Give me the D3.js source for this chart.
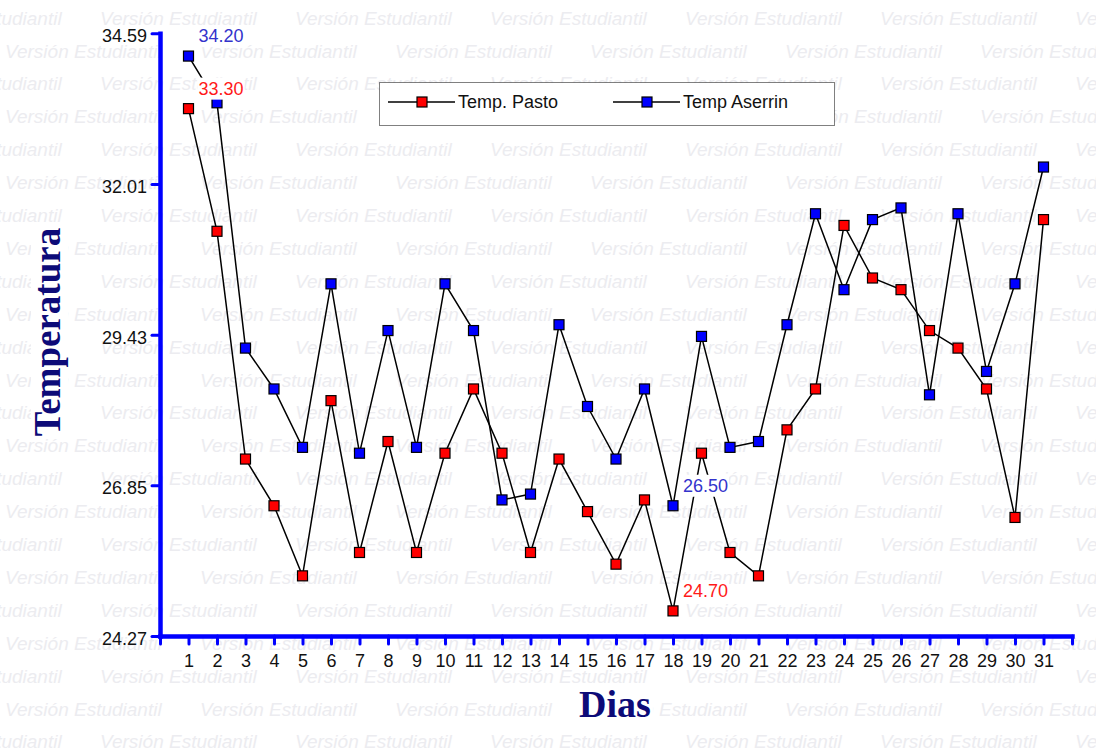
<!DOCTYPE html>
<html><head><meta charset="utf-8">
<script src="https://cdn.jsdelivr.net/npm/d3@7"></script>
<style>body{margin:0;background:#fff}svg{display:block}</style>
</head><body><svg id="c" width="1096" height="748"></svg>
<script>
// ---------- data ----------
const days = [1,2,3,4,5,6,7,8,9,10,11,12,13,14,15,16,17,18,19,20,21,22,23,24,25,26,27,28,29,30,31];
const tempPasto = [33.3,31.2,27.3,26.5,25.3,28.3,25.7,27.6,25.7,27.4,28.5,27.4,25.7,27.3,26.4,25.5,26.6,24.7,27.4,25.7,25.3,27.8,28.5,31.3,30.4,30.2,29.5,29.2,28.5,26.3,31.4];
const tempAserrin = [34.2,33.4,29.2,28.5,27.5,30.3,27.4,29.5,27.5,30.3,29.5,26.6,26.7,29.6,28.2,27.3,28.5,26.5,29.4,27.5,27.6,29.6,31.5,30.2,31.4,31.6,28.4,31.5,28.8,30.3,32.3];
const xTickValues = [0,1,2,3,4,5,6,7,8,9,10,11,12,13,14,15,16,17,18,19,20,21,22,23,24,25,26,27,28,29,30,31,32];
const yTickValues = [24.27, 26.85, 29.43, 32.01, 34.59];
const seriesNames = ["Temp. Pasto", "Temp Aserrin"];
const seriesFill = ["#ff0000", "#0000ff"];
const labelColors = ["#ff1a1a", "#3333cc"];
const annotations = [
  {series: 1, day: 1, text: "34.20"},
  {series: 0, day: 1, text: "33.30"},
  {series: 1, day: 18, text: "26.50"},
  {series: 0, day: 18, text: "24.70"}
];
const xTitle = "Dias";
const yTitle = "Temperatura";
const watermarkText = "Versión Estudiantil";

// ---------- drawing ----------
const svg = d3.select("#c");
const W = 1096, H = 748;
svg.append("rect").attr("width", W).attr("height", H).attr("fill", "#fff");

// watermark
const wm = svg.append("g").attr("font-family", "'Liberation Sans', Arial, sans-serif")
  .attr("font-style", "italic").attr("font-size", 19).attr("fill", "#ececf0");
for (let r = 0; r < 23; r++) {
  const yy = 18 + r * 32.9;
  const x0 = (r % 2 === 0) ? 100 : 5;
  for (let k = -1; k < 7; k++) {
    wm.append("text").attr("x", x0 + k * 195).attr("y", yy).attr("dy", "0.35em").text(watermarkText);
  }
}

const x = d3.scaleLinear().domain([0, 32]).range([160, 1072]);
const y = d3.scaleLinear().domain([24.27, 34.59]).range([636, 33.3]);
const series = [tempPasto, tempAserrin];
const navy = "#0d0b78";

// titles with white backgrounds
function titleWithBg(g) {
  const bb = g.select("text").node().getBBox();
  g.insert("rect", "text").attr("x", bb.x - 2).attr("y", bb.y + 4).attr("width", bb.width + 4).attr("height", bb.height - 4).attr("fill", "#fff");
}
const yt = svg.append("g").attr("transform", "translate(60,332) rotate(-90)");
yt.append("text").attr("text-anchor", "middle").attr("font-family", "'Liberation Serif', 'Times New Roman', serif")
  .attr("font-weight", "bold").attr("font-size", 37).attr("fill", navy).text(yTitle);
titleWithBg(yt);
const xt = svg.append("g").attr("transform", "translate(615,717)");
xt.append("text").attr("text-anchor", "middle").attr("font-family", "'Liberation Serif', 'Times New Roman', serif")
  .attr("font-weight", "bold").attr("font-size", 38).attr("fill", navy).text(xTitle);
titleWithBg(xt);

// axes
const axisColor = "#0000ff";
const yAxis = svg.append("g").attr("transform", "translate(160,0)")
  .call(d3.axisLeft(y).tickValues(yTickValues).tickSize(8).tickSizeOuter(0).tickPadding(5).tickFormat(d3.format(".2f")));
const xAxis = svg.append("g").attr("transform", "translate(0,636)")
  .call(d3.axisBottom(x).tickValues(xTickValues).tickSize(8).tickSizeOuter(0).tickPadding(10)
    .tickFormat(d => days.includes(d) ? d : ""));
[yAxis, xAxis].forEach(a => {
  a.select(".domain").attr("stroke", axisColor).attr("stroke-width", 4.5).attr("stroke-linecap", "square");
  a.selectAll(".tick line").attr("stroke", axisColor).attr("stroke-width", 3).attr("stroke-linecap", "round");
  a.selectAll(".tick text").attr("fill", "#111").attr("font-size", 18).attr("font-family", "'Liberation Sans', Arial, sans-serif");
});
yAxis.selectAll(".tick text").attr("dy", "0.47em");

// lines
const line = d3.line().x((d, i) => x(days[i])).y(d => y(d));
series.forEach(s => {
  svg.append("path").datum(s).attr("d", line).attr("fill", "none").attr("stroke", "#000").attr("stroke-width", 1.5);
});
// markers
series.forEach((s, si) => {
  svg.append("g").selectAll("rect").data(s).join("rect")
    .attr("x", (d, i) => x(days[i]) - 5).attr("y", d => y(d) - 5)
    .attr("width", 10).attr("height", 10)
    .attr("fill", seriesFill[si]).attr("stroke", "#000").attr("stroke-width", 1.2);
});

// annotations with white background
annotations.forEach(a => {
  const v = series[a.series][days.indexOf(a.day)];
  const g = svg.append("g").attr("transform", `translate(${x(a.day) + 10},${y(v) - 20})`);
  const t = g.append("text").attr("dy", "0.35em").attr("font-size", 18)
    .attr("font-family", "'Liberation Sans', Arial, sans-serif").attr("fill", labelColors[a.series]).text(a.text);
  const bb = t.node().getBBox();
  g.insert("rect", "text").attr("x", bb.x - 1).attr("y", -11).attr("width", bb.width + 2).attr("height", 22).attr("fill", "#fff");
});

// legend
const lg = svg.append("g");
lg.append("rect").attr("x", 379.5).attr("y", 82.5).attr("width", 455).attr("height", 43)
  .attr("fill", "#fff").attr("stroke", "#000").attr("stroke-width", 1).attr("stroke-dasharray", "1,1");
const legendX = [388, 613];
seriesNames.forEach((n, i) => {
  const g = lg.append("g").attr("transform", `translate(${legendX[i]},102)`);
  g.append("line").attr("x1", 0).attr("x2", 67).attr("stroke", "#000").attr("stroke-width", 1.5);
  g.append("rect").attr("x", 29).attr("y", -5).attr("width", 10).attr("height", 10)
    .attr("fill", seriesFill[i]).attr("stroke", "#000").attr("stroke-width", 1.2);
  g.append("text").attr("x", 70).attr("dy", "0.35em").attr("font-size", 18)
    .attr("font-family", "'Liberation Sans', Arial, sans-serif").attr("fill", "#111").text(n);
});
</script></body></html>
